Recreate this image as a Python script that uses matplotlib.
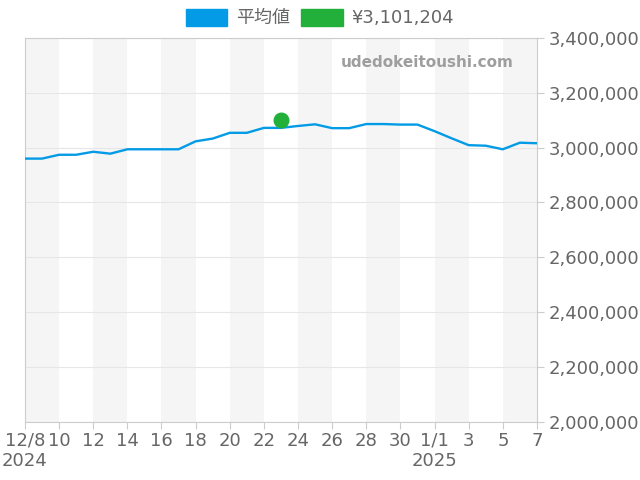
import pandas as pd
import numpy as np
import matplotlib
matplotlib.use("Agg")
import matplotlib.pyplot as plt
from matplotlib.patches import Patch
from matplotlib.ticker import FuncFormatter

plt.rcParams['font.family'] = ['DejaVu Sans', 'Noto Sans CJK JP']

# daily average price, 2024-12-08 .. 2025-01-07
start = "2024-12-08"
avg_price = [2960000, 2960000, 2974000, 2974000, 2985000, 2978000, 2994000,
             2994000, 2994000, 2994000, 3023000, 3033000, 3054000, 3054000,
             3072000, 3072000, 3079000, 3085000, 3071000, 3071000, 3086000,
             3086000, 3084000, 3084000, 3060000, 3034000, 3009000, 3007000,
             2994000, 3018000, 3016000]
dot_date = "2024-12-23"
dot_value = 3101204
legend_labels = ["平均値", "¥3,101,204"]

dates = pd.date_range(start, periods=len(avg_price), freq="D")

blue = "#039be5"
green = "#22b03a"
grey_txt = "#666666"

fig = plt.figure(figsize=(6.4, 4.8), dpi=100)
ax = fig.add_axes([0.039, 0.121, 0.8, 0.8])

# alternating shaded bands (2 days wide every 4 days)
for i in range(0, len(dates) - 1, 4):
    ax.axvspan(dates[i], dates[i] + pd.Timedelta(days=2), color="#f5f5f5", lw=0, zorder=0)

ax.plot(dates, avg_price, color=blue, lw=1.7, zorder=3)
ax.scatter([pd.Timestamp(dot_date)], [dot_value], s=110, color=green, zorder=4)

ax.set_xlim(dates[0], dates[-1])
ax.set_ylim(2000000, 3400000)
ax.set_yticks(np.arange(2000000, 3400001, 200000))
ax.yaxis.tick_right()
ax.yaxis.set_major_formatter(FuncFormatter(lambda v, p: f"{int(v):,}"))
ax.grid(axis="y", color="#e6e6e6", lw=0.8, zorder=1)

tick_dates = dates[::2]
labels = []
for d in tick_dates:
    if d == dates[0] or d.day == 1:
        labels.append(f"{d.month}/{d.day}\n{d.year}")
    else:
        labels.append(str(d.day))
ax.set_xticks(tick_dates)
ax.set_xticklabels(labels)

ax.tick_params(axis="both", colors="#cccccc", labelcolor=grey_txt, labelsize=13, length=5)
ax.tick_params(axis="x", pad=2)
for lab in ax.get_xticklabels():
    lab.set_multialignment("center")
for s in ax.spines.values():
    s.set_color("#cccccc")

ax.text(0.955, 0.935, "udedokeitoushi.com", transform=ax.transAxes, ha="right", va="center",
        fontsize=11, fontweight="bold", color="#9e9e9e")

handles = [Patch(color=blue), Patch(color=green)]
fig.legend(handles, legend_labels, loc="center", bbox_to_anchor=(0.5, 0.9625), ncol=2,
           frameon=False, fontsize=13, handlelength=2.3, handleheight=1.1,
           columnspacing=0.6, handletextpad=0.5, labelcolor=grey_txt)

fig.savefig("out.png", dpi=100)
